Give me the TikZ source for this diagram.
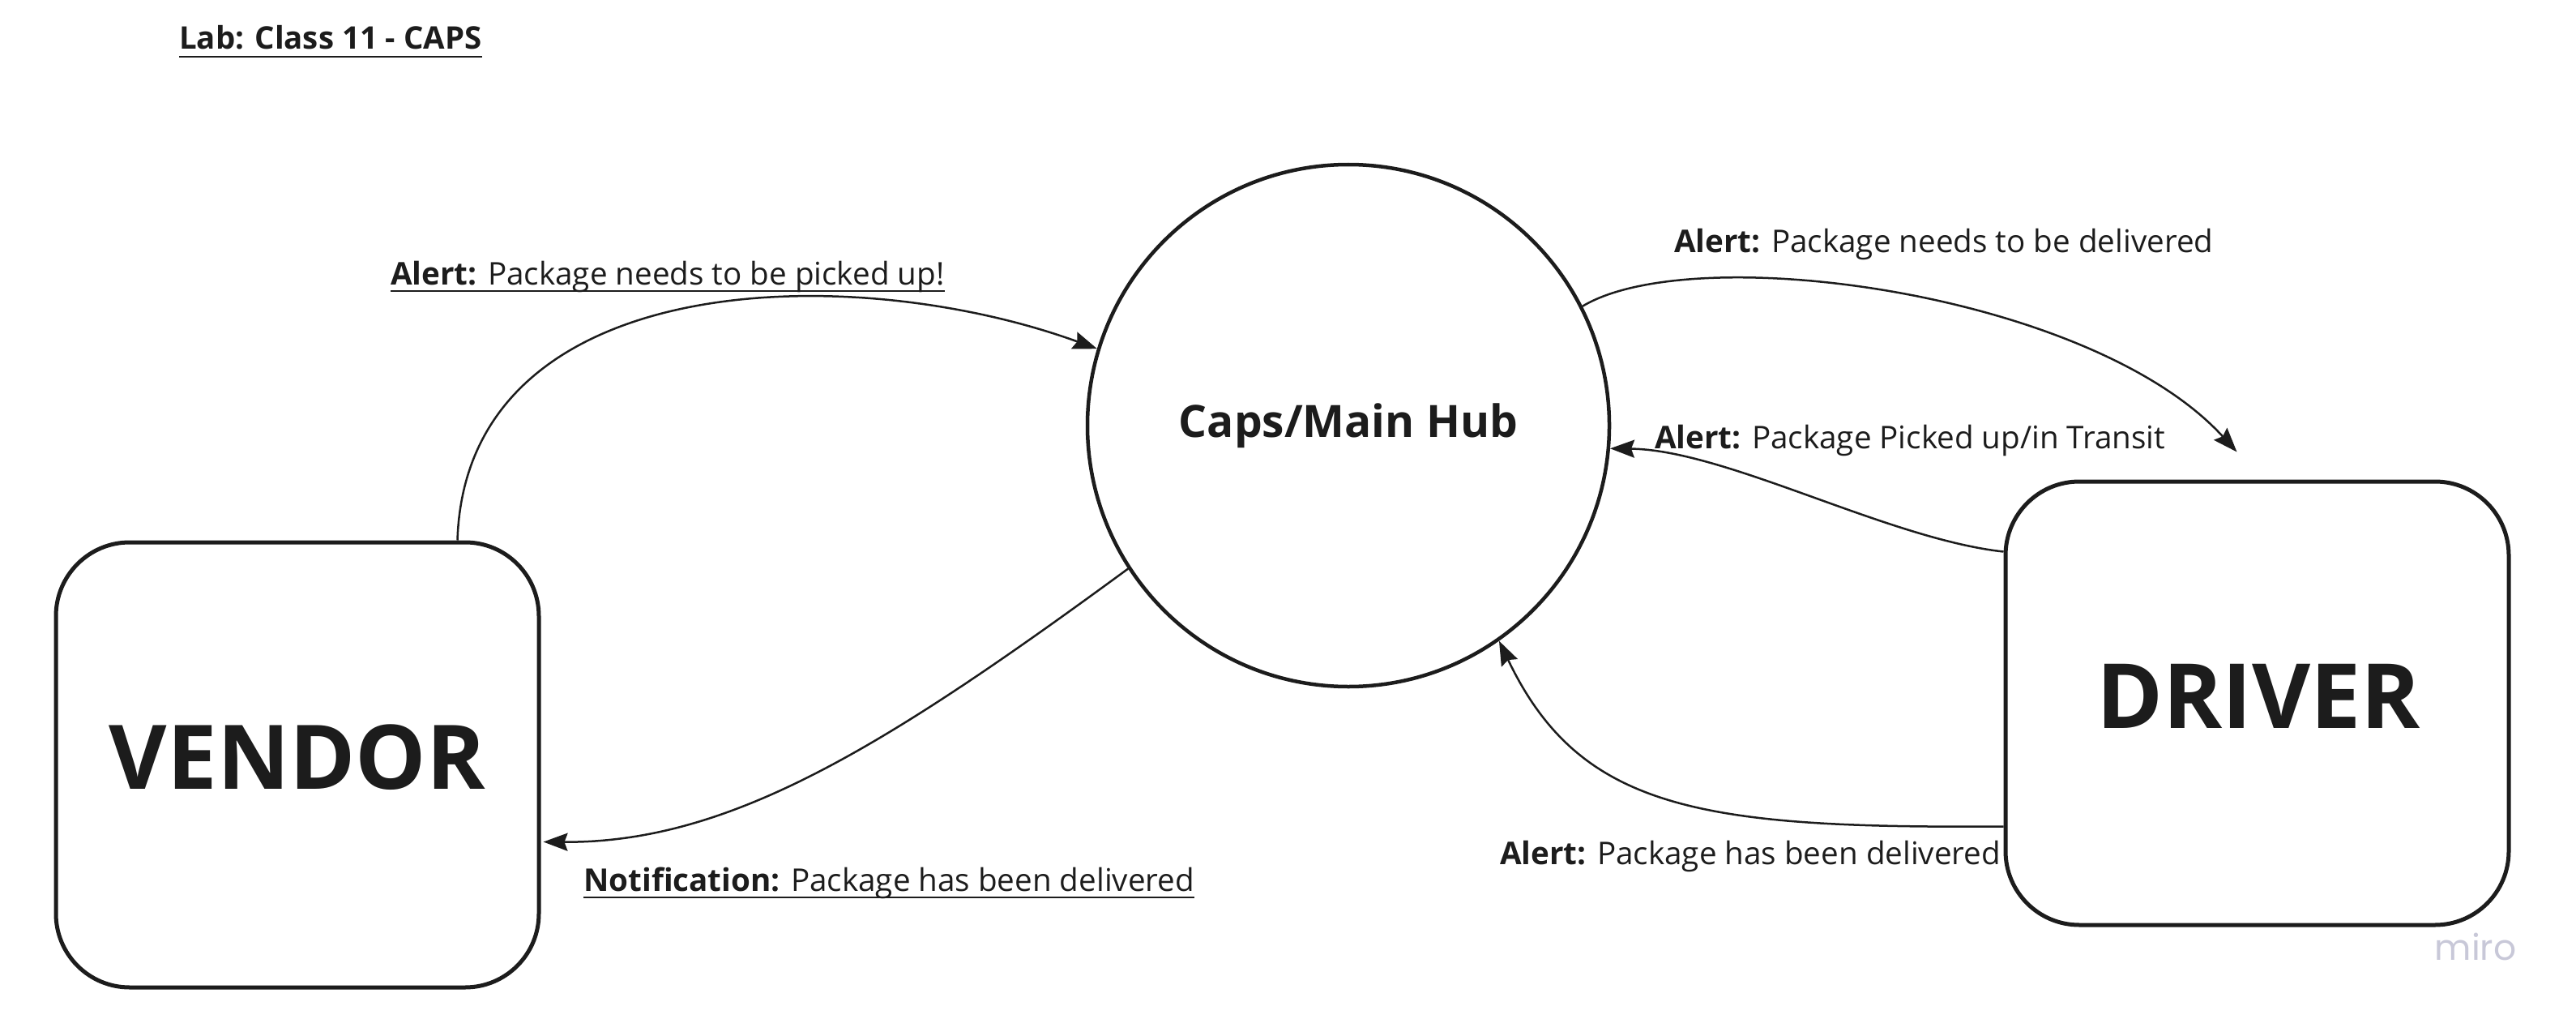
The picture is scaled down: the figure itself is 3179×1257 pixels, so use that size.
\documentclass[tikz,border=0pt]{standalone}
\usepackage{fontspec}
\setmainfont{Open Sans}
\newfontfamily\mirofont{Poppins}
\usetikzlibrary{arrows.meta}
\definecolor{ink}{HTML}{1C1C1C}
\definecolor{mirogray}{RGB}{200,200,216}
\begin{document}
\begin{tikzpicture}[x=1pt,y=-1pt,
  every node/.style={text=ink},
  boxnode/.style={draw=ink,line width=5pt,rounded corners=91pt,inner sep=0pt},
  bigtext/.style={font=\fontsize{110}{130}\selectfont\bfseries},
  hubnode/.style={draw=ink,circle,line width=4.5pt,minimum size=644pt,inner sep=0pt,font=\fontsize{55}{64}\selectfont\bfseries},
  lbl/.style={anchor=base west,inner sep=0pt,font=\fontsize{38.6}{46}\selectfont},
  conn/.style={draw=ink,line width=2.5pt,-{Stealth[length=30pt,width=22pt,inset=4pt]}},
  uline/.style={draw=ink,line width=2.6pt}]
\useasboundingbox (0,0) rectangle (3179,1257);
% title
\node[anchor=base west,inner sep=0pt,font=\fontsize{38.4}{46}\selectfont\bfseries] (title) at (221,61) {Lab: Class 11 - CAPS};
\draw[uline] ([yshift=-9pt]title.base west) -- ([yshift=-9pt]title.base east);
% main shapes
\node[boxnode,minimum width=596pt,minimum height=549pt] (vendor) at (367,943.5) {};
\node[bigtext] (vendortext) at (367,934) {VENDOR};
\node[boxnode,minimum width=621pt,minimum height=547pt] (driver) at (2785.5,867.5) {};
\node[bigtext,font=\fontsize{111}{130}\selectfont\bfseries] (drivertext) at (2787,859) {DRIVER};
\node[hubnode] (hub) at (1664,525) {Caps/Main Hub};
% labels
\node[lbl] (l1) at (482,351) {\textbf{Alert:} Package needs to be picked up!};
\draw[uline] ([yshift=-8pt]l1.base west) -- ([yshift=-8pt]l1.base east);
\node[lbl] (l2) at (2066,311) {\textbf{Alert:} Package needs to be delivered};
\node[lbl] (l3) at (2042,553) {\textbf{Alert:} Package Picked up/in Transit};
\node[lbl] (l4) at (1851,1066) {\textbf{Alert:} Package has been delivered};
\node[lbl] (l5) at (720,1099) {\textbf{Notification:} Package has been delivered};
\draw[uline] ([yshift=-8pt]l5.base west) -- ([yshift=-8pt]l5.base east);
% connectors
\draw[conn] ([xshift=-103pt]vendor.north east) .. controls (575,330) and (1050,320) .. (hub.163);
\draw[conn] (hub.213) .. controls (1090,923) and (900,1040) .. ([xshift=3pt,yshift=-95pt]vendor.east);
\coordinate (dtop) at ([xshift=-25pt,yshift=34pt]driver.north);
\draw[conn] (hub.27) .. controls (2090,295) and (2580,360) .. (dtop);
\draw[conn] ([yshift=187pt]driver.west) .. controls (2330,665) and (2130,555) .. (hub.-5);
\draw[conn] ([yshift=-152pt]driver.west) .. controls (2100,1022) and (1950,1000) .. (hub.-55);
% watermark
\node[text=mirogray,inner sep=0pt,font=\mirofont\fontsize{44}{50}\selectfont] (miro) at (3055,1168) {miro};
\end{tikzpicture}
\end{document}
